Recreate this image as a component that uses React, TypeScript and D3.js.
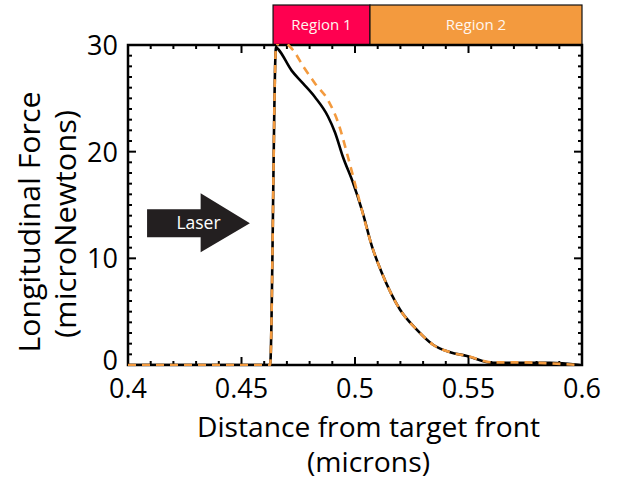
import React from 'react';
import * as d3 from 'd3';

// black solid curve: [distance (microns), force (microNewtons)]
const solidForce: [number, number][] = [
  [0.4, 0], [0.4626, 0], [0.4652, 29.8], [0.4662, 29.6], [0.4721, 27.6],
  [0.4771, 26.4], [0.4824, 25.1], [0.4881, 23.3], [0.4912, 21.8],
  [0.4947, 19.5], [0.4991, 17.1], [0.5031, 14.5], [0.5075, 11.1],
  [0.5119, 8.6], [0.5198, 5.2], [0.5273, 3.3], [0.5344, 1.9],
  [0.5419, 1.2], [0.5493, 0.85], [0.5608, 0.2], [0.5714, 0.2],
  [0.586, 0.2], [0.599, 0],
];

// orange dashed curve
const dashedForce: [number, number][] = [
  [0.4, 0], [0.4626, 0], [0.4652, 29.8], [0.468, 30.4], [0.4706, 30.0],
  [0.4728, 29.5], [0.4772, 28.0], [0.4824, 26.4], [0.4882, 24.8],
  [0.4926, 22.7], [0.4969, 19.5], [0.5022, 15.2], [0.5075, 11.1],
  [0.5119, 8.6], [0.5198, 5.2], [0.5273, 3.3], [0.5344, 1.9],
  [0.5419, 1.2], [0.5493, 0.85], [0.5608, 0.25], [0.5714, 0.25],
  [0.586, 0.15], [0.599, 0],
];

const xTicks = [0.4, 0.45, 0.5, 0.55, 0.6];
const yTicks = [0, 10, 20, 30];
const regions = [
  { label: 'Region 1', from: 0.4639, to: 0.5066, color: '#ff0050' },
  { label: 'Region 2', from: 0.5066, to: 0.6, color: '#f39a3e' },
];

const width = 627;
const height = 485;
const margin = { top: 45, right: 45, bottom: 120, left: 128 };
const font = "'Open Sans', sans-serif";

const App = () => {
  const x = d3.scaleLinear().domain([0.4, 0.6]).range([margin.left, width - margin.right]);
  const y = d3.scaleLinear().domain([0, 30]).range([height - margin.bottom, margin.top]);
  const [x0, x1] = x.range();
  const [y0, y1] = y.range();

  const line = d3
    .line<[number, number]>()
    .x(d => x(d[0]))
    .y(d => y(d[1]))
    .curve(d3.curveMonotoneX);

  const xMinor = d3.range(0.41, 0.6, 0.01).filter(v => !xTicks.some(t => Math.abs(t - v) < 1e-6));
  const yMinor = d3.range(1, 30, 1).filter(v => v % 10 !== 0);

  // arrow annotation
  const ay = y(13.3);
  const bodyL = x(0.4084);
  const bodyR = x(0.432);
  const tip = x(0.4537);
  const arrow = [
    [bodyL, ay - 14], [bodyR, ay - 14], [bodyR, ay - 30], [tip, ay],
    [bodyR, ay + 29], [bodyR, ay + 14], [bodyL, ay + 14],
  ].map(p => p.join(',')).join(' ');

  return (
    <svg width={width} height={height} style={{ position: 'absolute', left: 0, top: 0 }} fontFamily={font}>
      <defs>
        <clipPath id="plot">
          <rect x={x0} y={y1 - 1} width={x1 - x0} height={y0 - y1 + 2} />
        </clipPath>
      </defs>
      <rect width={width} height={height} fill="#fff" />

      {regions.map(r => (
        <g key={r.label}>
          <rect x={x(r.from)} y={5} width={x(r.to) - x(r.from)} height={y1 - 5} fill={r.color} stroke="#111" strokeWidth={1.2} />
          <text x={(x(r.from) + x(r.to)) / 2} y={30} textAnchor="middle" fontSize={15} fill="#fff6ee">{r.label}</text>
        </g>
      ))}

      {/* minor and major ticks, mirrored on all sides */}
      <g stroke="#000" strokeWidth={2}>
        {xMinor.map(v => (
          <g key={'xm' + v}>
            <line x1={x(v)} x2={x(v)} y1={y0} y2={y0 - 4} />
            <line x1={x(v)} x2={x(v)} y1={y1} y2={y1 + 4} />
          </g>
        ))}
        {xTicks.map(v => (
          <g key={'xM' + v}>
            <line x1={x(v)} x2={x(v)} y1={y0} y2={y0 - 8} />
            <line x1={x(v)} x2={x(v)} y1={y1} y2={y1 + 8} />
          </g>
        ))}
        {yMinor.map(v => (
          <g key={'ym' + v}>
            <line x1={x0} x2={x0 + 4} y1={y(v)} y2={y(v)} />
            <line x1={x1} x2={x1 - 4} y1={y(v)} y2={y(v)} />
          </g>
        ))}
        {yTicks.map(v => (
          <g key={'yM' + v}>
            <line x1={x0} x2={x0 + 8} y1={y(v)} y2={y(v)} />
            <line x1={x1} x2={x1 - 8} y1={y(v)} y2={y(v)} />
          </g>
        ))}
      </g>
      <rect x={x0} y={y1} width={x1 - x0} height={y0 - y1} fill="none" stroke="#000" strokeWidth={2.5} />

      <g clipPath="url(#plot)" fill="none" strokeWidth={2.6}>
        <path d={line(solidForce) ?? ''} stroke="#000" />
        <path d={line(dashedForce) ?? ''} stroke="#f39a3e" strokeDasharray="8,6" />
      </g>

      <polygon points={arrow} fill="#231f20" />
      <text x={198.5} y={ay + 6} textAnchor="middle" fontSize={17.5} fill="#fff">Laser</text>

      <g fontSize={27} fill="#000">
        {xTicks.map(v => (
          <text key={'xl' + v} x={x(v)} y={398} textAnchor="middle">{String(v)}</text>
        ))}
        {yTicks.map(v => (
          <text key={'yl' + v} x={x0 - 10} y={y(v) + (v === 0 ? 5 : 10)} textAnchor="end">{String(v)}</text>
        ))}
      </g>
      <g fontSize={28} fill="#000">
        <text x={368.5} y={437} textAnchor="middle" textLength={343} lengthAdjust="spacingAndGlyphs">Distance from target front</text>
        <text x={368.5} y={472} textAnchor="middle" textLength={123} lengthAdjust="spacingAndGlyphs">(microns)</text>
        <text transform="translate(40, 222) rotate(-90)" textAnchor="middle" fontSize={29} textLength={261} lengthAdjust="spacingAndGlyphs">Longitudinal Force</text>
        <text transform="translate(76, 224) rotate(-90)" textAnchor="middle" fontSize={29} textLength={228} lengthAdjust="spacingAndGlyphs">(microNewtons)</text>
      </g>
    </svg>
  );
};

export default App;
